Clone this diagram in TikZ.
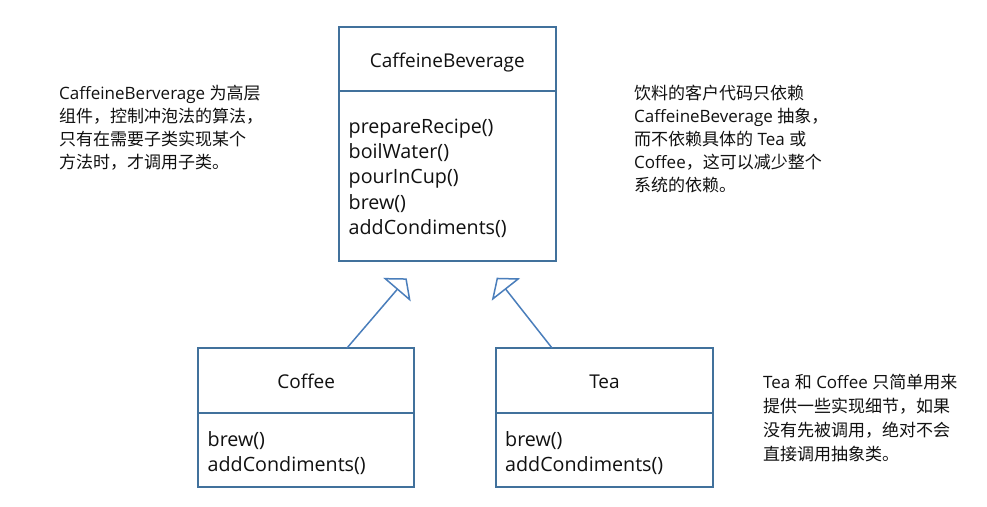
\documentclass[tikz,border=0pt]{standalone}
\usepackage{fontspec}
\setmainfont{Open Sans}
\newfontfamily\cjk{Noto Sans CJK SC}
\usetikzlibrary{arrows.meta,calc}
\definecolor{boxblue}{HTML}{41719C}
\definecolor{arrowblue}{HTML}{4A7EBB}
\definecolor{ink}{HTML}{111111}
\begin{document}
\begin{tikzpicture}[x=1pt,y=-1pt,
  umlpart/.style={draw=boxblue, line width=2pt, minimum width=216.5pt, inner sep=0pt, outer sep=0pt},
  umltitle/.style={font=\fontsize{19}{25.3}\selectfont, text=ink, inner sep=0pt, anchor=base},
  umlops/.style={font=\fontsize{19.7}{25.3}\selectfont, text=ink, inner sep=0pt, anchor=base west, align=left},
  note/.style={font=\fontsize{17}{23}\selectfont, text=ink, inner sep=0pt, anchor=base west, align=left},
  inherit/.style={draw=arrowblue, line width=1.5pt, -{Triangle[open, length=15pt, width=36pt]}}
]
\useasboundingbox (0,0) rectangle (987,506);
\fill[white] (0,0) rectangle (987,506);

% CaffeineBeverage
\node[umlpart, minimum height=64.3pt] (cbT) at (447.3,59.2) {};
\node[umlpart, minimum height=170pt] (cbB) at (447.3,176.3) {};
\node[umltitle] (cbName) at (447.3,67.3) {CaffeineBeverage};
% anchor 'base' of a multi-line node is the baseline of its last line
\node[umlops] (cbOps) at (348.5,234.5) {prepareRecipe()\\boilWater()\\pourInCup()\\brew()\\addCondiments()};

% Coffee
\node[umlpart, minimum height=65pt] (coT) at (306.2,380.5) {};
\node[umlpart, minimum height=74.5pt] (coB) at (306.2,450.2) {};
\node[umltitle] (coName) at (306.2,388.9) {Coffee};
\node[umlops] (coOps) at (207.5,471.6) {brew()\\addCondiments()};

% Tea
\node[umlpart, minimum height=65pt] (teT) at (604.5,380.5) {};
\node[umlpart, minimum height=74.5pt] (teB) at (604.5,450.2) {};
\node[umltitle] (teName) at (604.5,388.9) {Tea};
\node[umlops] (teOps) at (505,471.6) {brew()\\addCondiments()};

% inheritance arrows
\coordinate (coTip) at (406.7,278.3);
\coordinate (teTip) at (496.7,277.7);
\draw[inherit] ([xshift=40.8pt]coT.north) -- (coTip);
\draw[inherit] ([xshift=-52.5pt]teT.north) -- (teTip);

% notes
\node[note] (noteL) at (59,168.5) {CaffeineBerverage {\cjk 为高层}\\{\cjk 组件，控制冲泡法的算法，}\\{\cjk 只有在需要子类实现某个}\\{\cjk 方法时，才调用子类。}};
\node[note] (noteR) at (634,191.5) {{\cjk 饮料的客户代码只依赖}\\CaffeineBeverage {\cjk 抽象，}\\{\cjk 而不依赖具体的} Tea {\cjk 或}\\Coffee{\cjk ，这可以减少整个}\\{\cjk 系统的依赖。}};
\node[note, font=\fontsize{17}{24}\selectfont] (noteB) at (763,460.5) {Tea {\cjk 和} Coffee {\cjk 只简单用来}\\{\cjk 提供一些实现细节，如果}\\{\cjk 没有先被调用，绝对不会}\\{\cjk 直接调用抽象类。}};
\end{tikzpicture}
\end{document}
